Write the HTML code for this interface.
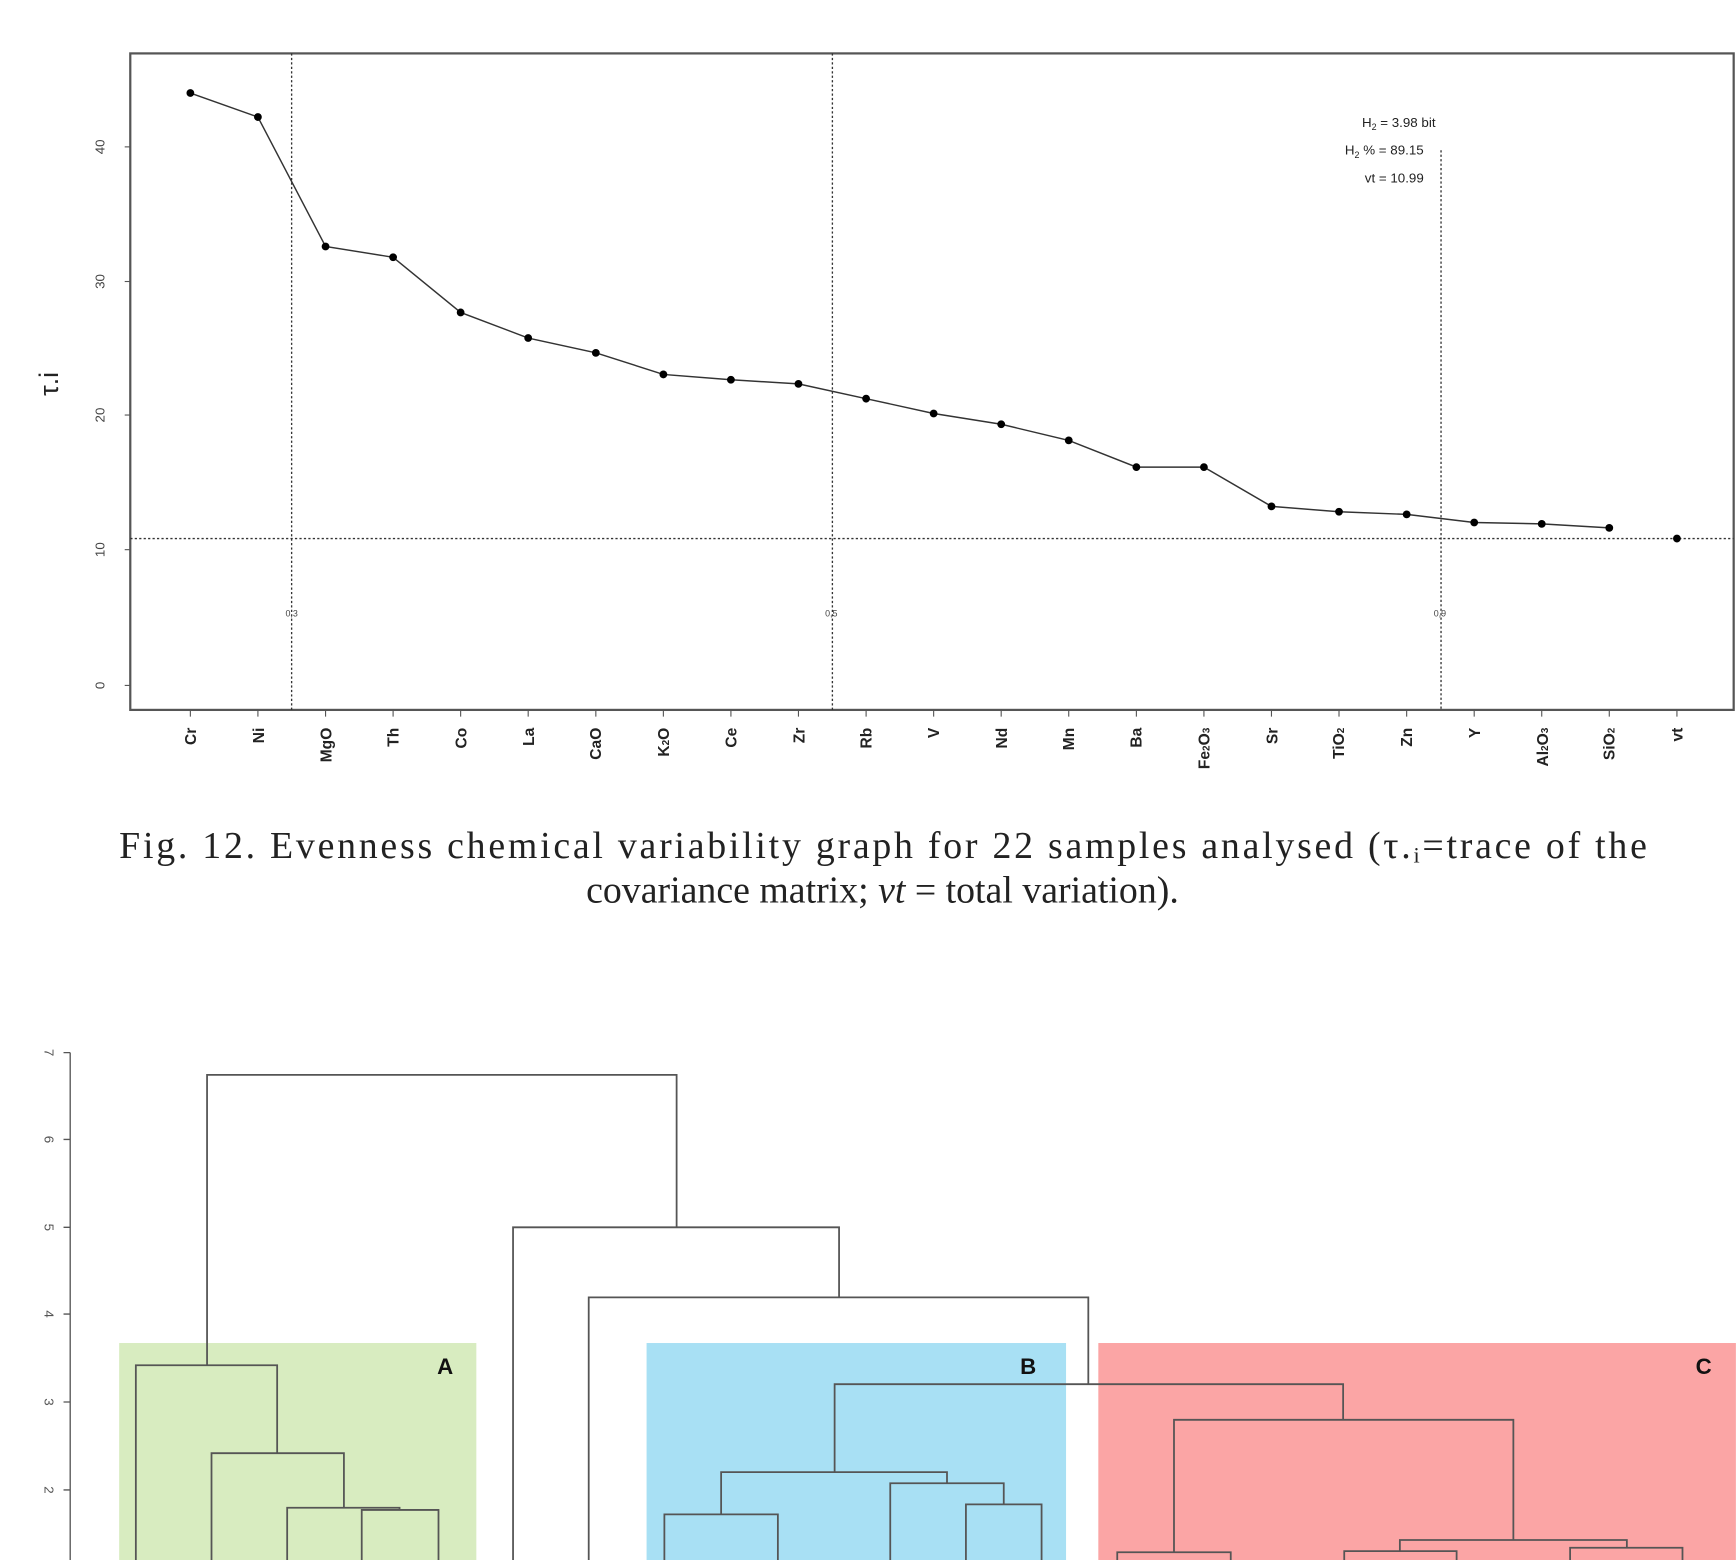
<!DOCTYPE html>
<html><head><meta charset="utf-8"><style>html,body{margin:0;padding:0;background:#fff}svg{display:block}</style></head><body>
<svg width="1736" height="1560" viewBox="0 0 1560 1402" xmlns="http://www.w3.org/2000/svg" font-family="Liberation Sans, sans-serif">
<rect width="1560" height="1402" fill="#fff"/>
<!-- top chart -->
<rect x="117" y="48" width="1441" height="590" fill="none" stroke="#555" stroke-width="2"/>
<g stroke="#555" stroke-width="1">
<line x1="112" y1="616" x2="117" y2="616"/><line x1="112" y1="494" x2="117" y2="494"/><line x1="112" y1="373" x2="117" y2="373"/><line x1="112" y1="253" x2="117" y2="253"/><line x1="112" y1="132" x2="117" y2="132"/>
</g>
<g font-size="12" fill="#444" text-anchor="middle">
<text transform="translate(94,616) rotate(-90)">0</text>
<text transform="translate(94,494) rotate(-90)">10</text>
<text transform="translate(94,373) rotate(-90)">20</text>
<text transform="translate(94,253) rotate(-90)">30</text>
<text transform="translate(94,132) rotate(-90)">40</text>
</g>
<text transform="translate(52,345) rotate(-90)" font-size="24" text-anchor="middle" fill="#222">τ.i</text>
<g stroke="#333" stroke-width="1.2" stroke-dasharray="2,2" fill="none">
<line x1="117" y1="484" x2="1558" y2="484"/>
<line x1="262" y1="48" x2="262" y2="638"/>
<line x1="748" y1="48" x2="748" y2="638"/>
<line x1="1295" y1="135" x2="1295" y2="638"/>
</g>
<g font-size="8" fill="#444" text-anchor="middle"><text x="262" y="554">0,3</text><text x="747" y="554">0,5</text><text x="1294" y="554">0,9</text></g>
<g font-size="12" fill="#222" text-anchor="middle" font-family="Liberation Sans Narrow, Liberation Sans, sans-serif">
<text x="1257" y="114">H<tspan font-size="8" dy="3">2</tspan><tspan dy="-3"> = 3.98 bit</tspan></text>
<text x="1244" y="139">H<tspan font-size="8" dy="3">2</tspan><tspan dy="-3"> % = 89.15</tspan></text>
<text x="1253" y="164">vt = 10.99</text>
</g>
<polyline fill="none" stroke="#333" stroke-width="1.3" points="171,83.6 231.7,105.2 292.5,221.5 353.2,231.2 413.9,280.8 474.6,303.8 535.4,317.1 596.1,336.5 656.8,341.3 717.5,345.0 778.3,358.3 839,371.6 899.7,381.3 960.4,395.8 1021.2,419.8 1081.9,419.8 1142.6,455.1 1203.3,459.9 1264.1,462.3 1324.8,469.6 1385.5,470.8 1446.2,474.4"/>
<g fill="#000">
<circle cx="171" cy="83.6" r="3.5"/><circle cx="231.7" cy="105.2" r="3.5"/><circle cx="292.5" cy="221.5" r="3.5"/><circle cx="353.2" cy="231.2" r="3.5"/><circle cx="413.9" cy="280.8" r="3.5"/><circle cx="474.6" cy="303.8" r="3.5"/><circle cx="535.4" cy="317.1" r="3.5"/><circle cx="596.1" cy="336.5" r="3.5"/><circle cx="656.8" cy="341.3" r="3.5"/><circle cx="717.5" cy="345" r="3.5"/><circle cx="778.3" cy="358.3" r="3.5"/><circle cx="839" cy="371.6" r="3.5"/><circle cx="899.7" cy="381.3" r="3.5"/><circle cx="960.4" cy="395.8" r="3.5"/><circle cx="1021.2" cy="419.8" r="3.5"/><circle cx="1081.9" cy="419.8" r="3.5"/><circle cx="1142.6" cy="455.1" r="3.5"/><circle cx="1203.3" cy="459.9" r="3.5"/><circle cx="1264.1" cy="462.3" r="3.5"/><circle cx="1324.8" cy="469.6" r="3.5"/><circle cx="1385.5" cy="470.8" r="3.5"/><circle cx="1446.2" cy="474.4" r="3.5"/><circle cx="1507" cy="484" r="3.5"/>
</g>
<g stroke="#555" stroke-width="1">
<path d="M171 638v6M231.7 638v6M292.5 638v6M353.2 638v6M413.9 638v6M474.6 638v6M535.4 638v6M596.1 638v6M656.8 638v6M717.5 638v6M778.3 638v6M839 638v6M899.7 638v6M960.4 638v6M1021.2 638v6M1081.9 638v6M1142.6 638v6M1203.3 638v6M1264.1 638v6M1324.8 638v6M1385.5 638v6M1446.2 638v6M1507 638v6"/>
</g>
<g font-size="14" font-weight="bold" fill="#222" text-anchor="end">
<text transform="translate(176,654) rotate(-90)">Cr</text>
<text transform="translate(237,654) rotate(-90)">Ni</text>
<text transform="translate(298,654) rotate(-90)">MgO</text>
<text transform="translate(358,654) rotate(-90)">Th</text>
<text transform="translate(419,654) rotate(-90)">Co</text>
<text transform="translate(480,654) rotate(-90)">La</text>
<text transform="translate(540,654) rotate(-90)">CaO</text>
<text transform="translate(601,654) rotate(-90)">K<tspan font-size="9">2</tspan>O</text>
<text transform="translate(662,654) rotate(-90)">Ce</text>
<text transform="translate(723,654) rotate(-90)">Zr</text>
<text transform="translate(783,654) rotate(-90)">Rb</text>
<text transform="translate(844,654) rotate(-90)">V</text>
<text transform="translate(905,654) rotate(-90)">Nd</text>
<text transform="translate(965,654) rotate(-90)">Mn</text>
<text transform="translate(1026,654) rotate(-90)">Ba</text>
<text transform="translate(1087,654) rotate(-90)">Fe<tspan font-size="9">2</tspan>O<tspan font-size="9">3</tspan></text>
<text transform="translate(1148,654) rotate(-90)">Sr</text>
<text transform="translate(1208,654) rotate(-90)">TiO<tspan font-size="9">2</tspan></text>
<text transform="translate(1269,654) rotate(-90)">Zn</text>
<text transform="translate(1330,654) rotate(-90)">Y</text>
<text transform="translate(1391,654) rotate(-90)">Al<tspan font-size="9">2</tspan>O<tspan font-size="9">3</tspan></text>
<text transform="translate(1451,654) rotate(-90)">SiO<tspan font-size="9">2</tspan></text>
<text transform="translate(1512,654) rotate(-90)">vt</text>
</g>
<g font-family="Liberation Serif, serif" font-size="34" fill="#222">
<text x="107" y="771" textLength="1373" lengthAdjust="spacing">Fig. 12. Evenness chemical variability graph for 22 samples analysed (τ.<tspan font-size="20" dy="4">i</tspan><tspan dy="-4">=trace of the</tspan></text>
<text x="793" y="811" text-anchor="middle">covariance matrix; <tspan font-style="italic">vt</tspan> = total variation).</text>
</g>
<!-- dendrogram -->
<rect x="107" y="1207" width="321" height="195" fill="#d8ecc0"/>
<rect x="581" y="1207" width="377" height="195" fill="#a8e0f4"/>
<rect x="987" y="1207" width="573" height="195" fill="#fba5a5"/>
<g font-size="20" font-weight="bold" fill="#111" text-anchor="middle">
<text x="400" y="1235">A</text><text x="924" y="1235">B</text><text x="1531" y="1235">C</text>
</g>
<line x1="63" y1="946" x2="63" y2="1402" stroke="#555" stroke-width="1.2"/>
<g stroke="#555" stroke-width="1.2">
<path d="M57 946h6M57 1024h6M57 1103h6M57 1181h6M57 1260h6M57 1339h6"/>
</g>
<g font-size="12" fill="#555" text-anchor="middle">
<text transform="translate(40,946) rotate(90)">7</text>
<text transform="translate(40,1024) rotate(90)">6</text>
<text transform="translate(40,1103) rotate(90)">5</text>
<text transform="translate(40,1181) rotate(90)">4</text>
<text transform="translate(40,1260) rotate(90)">3</text>
<text transform="translate(40,1339) rotate(90)">2</text>
</g>
<g stroke="#555" stroke-width="1.6" fill="none">
<path d="M186 1227V966H608V1103"/>
<path d="M461 1402V1103H754V1166"/>
<path d="M529 1402V1166H978V1244"/>
<path d="M750 1323V1244H1207V1276"/>
<path d="M122 1402V1227H249V1306"/>
<path d="M190 1402V1306H309V1355"/>
<path d="M258 1402V1355H359V1357"/>
<path d="M325 1402V1357H394V1402"/>
<path d="M648 1361V1323H851V1333"/>
<path d="M597 1402V1361H699V1402"/>
<path d="M800 1402V1333H902V1352"/>
<path d="M868 1402V1352H936V1402"/>
<path d="M1055 1395V1276H1360V1384"/>
<path d="M1004 1402V1395H1106V1402"/>
<path d="M1258 1394V1384H1462V1391"/>
<path d="M1208 1402V1394H1309V1402"/>
<path d="M1411 1402V1391H1512V1402"/>
</g>
</svg>
</body></html>
